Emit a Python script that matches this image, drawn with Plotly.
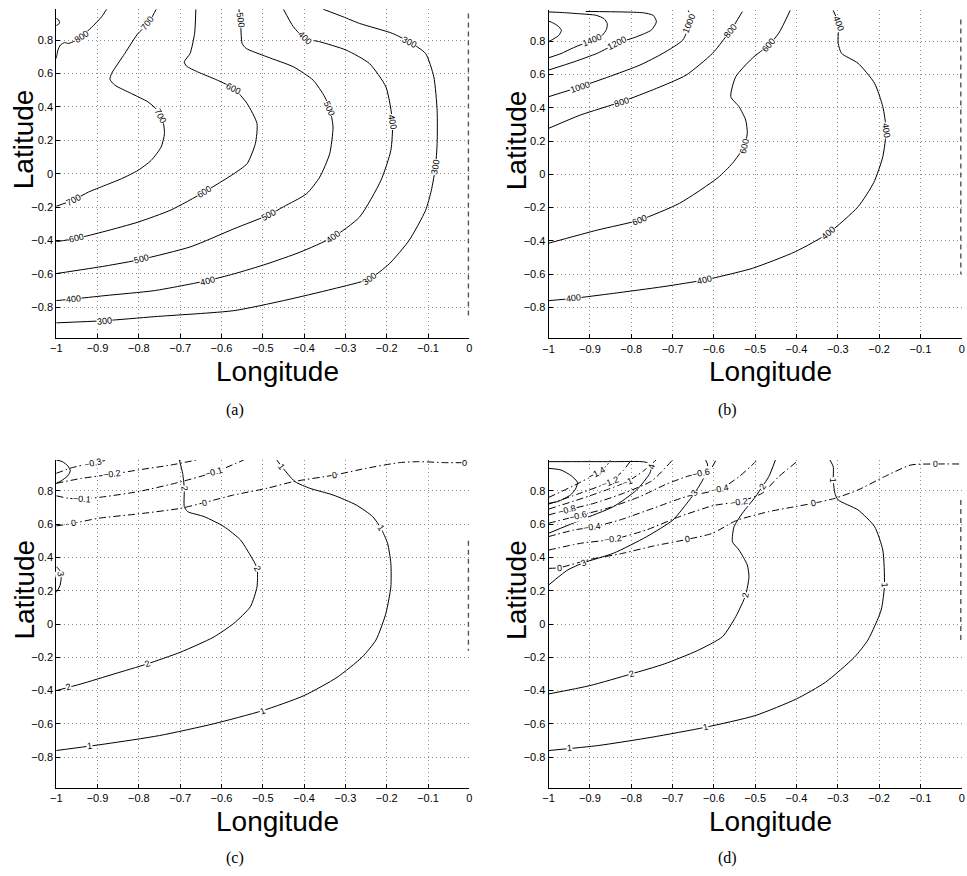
import math
import plotly.graph_objects as go

W, H = 967, 876

# ---------------- axes ----------------
LON_RANGE = [-1.0, 0.0]
LAT_RANGE = [-0.985, 0.985]
X_TICKS = [-1, -0.9, -0.8, -0.7, -0.6, -0.5, -0.4, -0.3, -0.2, -0.1, 0]
X_TICK_TEXT = ["\u22121", "\u22120.9", "\u22120.8", "\u22120.7", "\u22120.6", "\u22120.5",
               "\u22120.4", "\u22120.3", "\u22120.2", "\u22120.1", "0"]
Y_TICKS = [-0.8, -0.6, -0.4, -0.2, 0, 0.2, 0.4, 0.6, 0.8]
Y_TICK_TEXT = ["\u22120.8", "\u22120.6", "\u22120.4", "\u22120.2", "0", "0.2", "0.4", "0.6", "0.8"]

# ---------------- panel (a) contours: (lon, lat) vertices ----------------
A_900 = [(-1.0, 0.93), (-0.994, 0.92), (-0.992, 0.905), (-0.995, 0.893), (-1.0, 0.888)]
A_800 = [(-1.0, 0.69), (-0.996, 0.74), (-0.99, 0.77), (-0.98, 0.785), (-0.97, 0.78), (-0.955, 0.795),
         (-0.94, 0.82), (-0.915, 0.875), (-0.89, 0.94), (-0.878, 0.985)]
A_800_LBL = [(-0.94, 0.82)]
A_700 = [(-0.758, 0.985), (-0.77, 0.93), (-0.785, 0.88), (-0.802, 0.84), (-0.834, 0.72), (-0.866, 0.60),
         (-0.87, 0.565), (-0.858, 0.53), (-0.818, 0.48), (-0.778, 0.43), (-0.755, 0.38), (-0.742, 0.32),
         (-0.738, 0.24), (-0.746, 0.16), (-0.77, 0.08), (-0.802, 0.02), (-0.842, -0.03), (-0.882, -0.07),
         (-0.922, -0.11), (-0.958, -0.157), (-1.0, -0.195)]
A_700_LBL = [(-0.778, 0.90), (-0.745, 0.35), (-0.958, -0.157)]
A_600 = [(-0.662, 0.985), (-0.665, 0.84), (-0.676, 0.72), (-0.69, 0.67), (-0.685, 0.645), (-0.658, 0.61),
         (-0.61, 0.56), (-0.57, 0.51), (-0.538, 0.42), (-0.514, 0.30), (-0.518, 0.18), (-0.538, 0.06),
         (-0.57, 0.0), (-0.642, -0.11), (-0.722, -0.217), (-0.802, -0.29), (-0.882, -0.345),
         (-0.95, -0.387), (-1.0, -0.407)]
A_600_LBL = [(-0.57, 0.51), (-0.642, -0.11), (-0.95, -0.387)]
A_500 = [(-0.558, 0.985), (-0.554, 0.92), (-0.55, 0.78), (-0.54, 0.75), (-0.49, 0.70), (-0.426, 0.64),
         (-0.378, 0.56), (-0.35, 0.46), (-0.338, 0.39), (-0.33, 0.28), (-0.338, 0.12), (-0.362, -0.02),
         (-0.394, -0.12), (-0.45, -0.198), (-0.486, -0.247), (-0.57, -0.33), (-0.674, -0.437),
         (-0.794, -0.513), (-0.882, -0.553), (-1.0, -0.598)]
A_500_LBL = [(-0.554, 0.92), (-0.338, 0.39), (-0.486, -0.247), (-0.794, -0.513)]
A_400 = [(-0.45, 0.985), (-0.426, 0.88), (-0.398, 0.81), (-0.362, 0.79), (-0.298, 0.74), (-0.242, 0.66),
         (-0.202, 0.52), (-0.186, 0.31), (-0.19, 0.14), (-0.214, -0.04), (-0.266, -0.26), (-0.33, -0.38),
         (-0.41, -0.47), (-0.49, -0.54), (-0.57, -0.60), (-0.634, -0.64), (-0.762, -0.70),
         (-0.882, -0.73), (-0.958, -0.75), (-1.0, -0.76)]
A_400_LBL = [(-0.398, 0.81), (-0.186, 0.31), (-0.33, -0.38), (-0.634, -0.64), (-0.958, -0.75)]
A_300 = [(-0.354, 0.985), (-0.306, 0.94), (-0.266, 0.90), (-0.186, 0.84), (-0.146, 0.79), (-0.106, 0.72),
         (-0.086, 0.58), (-0.078, 0.38), (-0.078, 0.18), (-0.082, 0.04), (-0.092, -0.10), (-0.106, -0.22),
         (-0.146, -0.40), (-0.194, -0.54), (-0.242, -0.63), (-0.33, -0.69), (-0.45, -0.76),
         (-0.57, -0.82), (-0.762, -0.856), (-0.882, -0.88), (-1.0, -0.893)]
A_300_LBL = [(-0.146, 0.79), (-0.082, 0.04), (-0.242, -0.63), (-0.882, -0.88)]
A_EDGE = [(-0.002, 0.96), (-0.002, -0.86)]

# ---------------- panel (b) contours ----------------
B_1600 = [(-1.0, 0.92), (-0.99, 0.91), (-0.977, 0.89), (-0.969, 0.865), (-0.975, 0.835), (-0.99, 0.81),
          (-1.0, 0.797)]
B_1400 = [(-1.0, 0.70), (-0.97, 0.725), (-0.94, 0.76), (-0.894, 0.807), (-0.87, 0.835), (-0.86, 0.87),
          (-0.858, 0.905), (-0.866, 0.935), (-0.885, 0.955), (-0.93, 0.965), (-0.97, 0.972), (-1.0, 0.975)]
B_1400_LBL = [(-0.894, 0.807)]
B_1200 = [(-1.0, 0.626), (-0.938, 0.676), (-0.882, 0.727), (-0.834, 0.787), (-0.787, 0.826),
          (-0.751, 0.867), (-0.739, 0.917), (-0.747, 0.955), (-0.771, 0.97), (-0.82, 0.975), (-0.91, 0.978)]
B_1200_LBL = [(-0.834, 0.787)]
B_1000 = [(-1.0, 0.466), (-0.923, 0.526), (-0.843, 0.596), (-0.779, 0.656), (-0.723, 0.727),
          (-0.675, 0.807), (-0.659, 0.907), (-0.659, 0.96), (-0.662, 0.985)]
B_1000_LBL = [(-0.923, 0.526), (-0.659, 0.907)]
B_800 = [(-1.0, 0.276), (-0.923, 0.356), (-0.823, 0.436), (-0.739, 0.516), (-0.667, 0.596),
         (-0.603, 0.727), (-0.571, 0.826), (-0.56, 0.86), (-0.531, 0.977)]
B_800_LBL = [(-0.823, 0.436), (-0.56, 0.86)]
B_600 = [(-0.415, 0.985), (-0.443, 0.847), (-0.467, 0.777), (-0.507, 0.697), (-0.547, 0.586),
         (-0.559, 0.466), (-0.539, 0.406), (-0.523, 0.326), (-0.519, 0.246), (-0.527, 0.166),
         (-0.555, 0.066), (-0.59, -0.02), (-0.683, -0.174), (-0.779, -0.274), (-0.882, -0.335),
         (-1.0, -0.414)]
B_600_LBL = [(-0.467, 0.777), (-0.527, 0.166), (-0.779, -0.274)]
B_400 = [(-0.311, 0.985), (-0.299, 0.907), (-0.299, 0.787), (-0.291, 0.727), (-0.251, 0.667),
         (-0.211, 0.547), (-0.191, 0.406), (-0.183, 0.266), (-0.191, 0.106), (-0.213, -0.05),
         (-0.251, -0.195), (-0.323, -0.354), (-0.403, -0.465), (-0.507, -0.565), (-0.587, -0.615),
         (-0.623, -0.635), (-0.723, -0.675), (-0.843, -0.715), (-0.939, -0.745), (-1.0, -0.759)]
B_400_LBL = [(-0.299, 0.907), (-0.183, 0.266), (-0.323, -0.354), (-0.623, -0.635), (-0.939, -0.745)]
B_EDGE = [(-0.002, 0.93), (-0.002, -0.6)]

# ---------------- panel (c) contours ----------------
C_3A = [(-1.0, 0.985), (-0.985, 0.975), (-0.972, 0.95), (-0.966, 0.92), (-0.972, 0.89), (-0.988, 0.86),
        (-1.0, 0.845)]
C_3B = [(-1.0, 0.345), (-0.991, 0.32), (-0.988, 0.28), (-0.991, 0.23), (-1.0, 0.19)]
C_3B_LBL = [(-0.99, 0.30)]
C_M03 = [(-1.0, 0.905), (-0.96, 0.94), (-0.91, 0.968), (-0.875, 0.985)]
C_M03_LBL = [(-0.91, 0.968)]
C_M02 = [(-1.0, 0.845), (-0.938, 0.875), (-0.866, 0.899), (-0.802, 0.925), (-0.722, 0.955),
         (-0.66, 0.985)]
C_M02_LBL = [(-0.866, 0.899)]
C_M01 = [(-1.0, 0.77), (-0.97, 0.755), (-0.938, 0.75), (-0.882, 0.765), (-0.802, 0.795),
         (-0.706, 0.849), (-0.618, 0.911), (-0.546, 0.985)]
C_M01_LBL = [(-0.938, 0.75), (-0.618, 0.911)]
C_0 = [(-1.0, 0.589), (-0.958, 0.605), (-0.898, 0.635), (-0.802, 0.661), (-0.698, 0.695),
       (-0.642, 0.729), (-0.57, 0.775), (-0.49, 0.815), (-0.426, 0.855), (-0.326, 0.895),
       (-0.25, 0.935), (-0.17, 0.969), (-0.122, 0.975), (-0.058, 0.969), (0.0, 0.969)]
C_0_LBL = [(-0.958, 0.605), (-0.642, 0.729), (-0.326, 0.895), (-0.012, 0.969)]
C_2 = [(-0.702, 0.985), (-0.694, 0.905), (-0.69, 0.815), (-0.69, 0.705), (-0.682, 0.675),
       (-0.642, 0.645), (-0.594, 0.585), (-0.554, 0.505), (-0.538, 0.445), (-0.514, 0.335),
       (-0.514, 0.224), (-0.53, 0.104), (-0.57, 0.004), (-0.62, -0.08), (-0.70, -0.17),
       (-0.78, -0.24), (-0.86, -0.30), (-0.94, -0.36), (-1.0, -0.40)]
C_2_LBL = [(-0.69, 0.815), (-0.514, 0.335), (-0.78, -0.24), (-0.97, -0.38)]
C_1 = [(-0.466, 0.985), (-0.454, 0.945), (-0.422, 0.855), (-0.386, 0.815), (-0.33, 0.775),
       (-0.274, 0.715), (-0.234, 0.645), (-0.214, 0.575), (-0.198, 0.485), (-0.19, 0.365),
       (-0.19, 0.224), (-0.202, 0.064), (-0.226, -0.096), (-0.26, -0.2), (-0.32, -0.32),
       (-0.40, -0.43), (-0.50, -0.52), (-0.62, -0.60), (-0.75, -0.67), (-0.88, -0.72), (-1.0, -0.76)]
C_1_LBL = [(-0.454, 0.945), (-0.214, 0.575), (-0.50, -0.52), (-0.92, -0.735)]
C_EDGE = [(-0.002, 0.5), (-0.002, -0.16)]

# ---------------- panel (d) contours ----------------
D_5 = [(-1.0, 0.935), (-0.97, 0.925), (-0.945, 0.89), (-0.93, 0.85), (-0.935, 0.81), (-0.947, 0.775),
       (-0.978, 0.735), (-1.0, 0.725)]
D_4 = [(-1.0, 0.545), (-0.922, 0.625), (-0.843, 0.705), (-0.787, 0.805), (-0.755, 0.905),
       (-0.751, 0.949), (-0.765, 0.972), (-0.85, 0.975), (-1.0, 0.975)]
D_4_LBL = [(-0.751, 0.945)]
D_3 = [(-1.0, 0.234), (-0.954, 0.324), (-0.915, 0.368), (-0.843, 0.425), (-0.763, 0.524),
       (-0.699, 0.625), (-0.659, 0.745), (-0.647, 0.785), (-0.627, 0.865), (-0.615, 0.955),
       (-0.62, 0.985)]
D_3_LBL = [(-0.915, 0.368), (-0.647, 0.785)]
D_M14 = [(-1.0, 0.76), (-0.94, 0.83), (-0.883, 0.905), (-0.86, 0.95), (-0.85, 0.985)]
D_M14_LBL = [(-0.883, 0.905)]
D_M12 = [(-1.0, 0.72), (-0.93, 0.78), (-0.851, 0.855), (-0.82, 0.92), (-0.8, 0.985)]
D_M12_LBL = [(-0.851, 0.855)]
D_M1 = [(-1.0, 0.69), (-0.9, 0.77), (-0.81, 0.855), (-0.77, 0.92), (-0.74, 0.985)]
D_M1_LBL = [(-0.81, 0.855)]
D_M08 = [(-1.0, 0.655), (-0.955, 0.685), (-0.89, 0.725), (-0.819, 0.785), (-0.75, 0.86), (-0.70, 0.985)]
D_M08_LBL = [(-0.955, 0.685)]
D_M06 = [(-1.0, 0.605), (-0.93, 0.649), (-0.858, 0.695), (-0.779, 0.765), (-0.715, 0.84),
         (-0.66, 0.89), (-0.63, 0.905), (-0.605, 0.94), (-0.595, 0.985)]
D_M06_LBL = [(-0.93, 0.649), (-0.63, 0.905)]
D_M04 = [(-1.0, 0.525), (-0.938, 0.565), (-0.895, 0.581), (-0.827, 0.625), (-0.747, 0.695),
         (-0.667, 0.765), (-0.585, 0.81), (-0.539, 0.885), (-0.503, 0.965), (-0.495, 0.985)]
D_M04_LBL = [(-0.895, 0.581), (-0.585, 0.81)]
D_M02 = [(-1.0, 0.444), (-0.922, 0.485), (-0.843, 0.509), (-0.763, 0.565), (-0.683, 0.645),
         (-0.6, 0.712), (-0.539, 0.735), (-0.483, 0.785), (-0.443, 0.885), (-0.399, 0.975)]
D_M02_LBL = [(-0.843, 0.509), (-0.539, 0.735)]
D_0 = [(-1.0, 0.334), (-0.974, 0.338), (-0.898, 0.389), (-0.827, 0.421), (-0.747, 0.468),
       (-0.663, 0.509), (-0.603, 0.545), (-0.547, 0.62), (-0.467, 0.675), (-0.403, 0.705),
       (-0.359, 0.725), (-0.307, 0.755), (-0.251, 0.805), (-0.187, 0.885), (-0.123, 0.955),
       (-0.063, 0.961), (0.0, 0.961)]
D_0_LBL = [(-0.974, 0.338), (-0.663, 0.509), (-0.359, 0.725), (-0.063, 0.961)]
D_2 = [(-0.451, 0.985), (-0.467, 0.885), (-0.483, 0.825), (-0.499, 0.765), (-0.531, 0.665),
       (-0.551, 0.585), (-0.555, 0.494), (-0.539, 0.444), (-0.519, 0.354), (-0.515, 0.284),
       (-0.523, 0.174), (-0.547, 0.044), (-0.579, -0.076), (-0.64, -0.16), (-0.72, -0.24),
       (-0.80, -0.30), (-0.90, -0.37), (-1.0, -0.42)]
D_2_LBL = [(-0.483, 0.825), (-0.523, 0.174), (-0.80, -0.30)]
D_1 = [(-0.319, 0.985), (-0.311, 0.945), (-0.311, 0.865), (-0.307, 0.785), (-0.299, 0.745),
       (-0.251, 0.685), (-0.211, 0.585), (-0.191, 0.444), (-0.187, 0.234), (-0.195, 0.084),
       (-0.227, -0.096), (-0.26, -0.2), (-0.33, -0.35), (-0.40, -0.45), (-0.50, -0.55),
       (-0.62, -0.62), (-0.75, -0.68), (-0.88, -0.73), (-1.0, -0.76)]
D_1_LBL = [(-0.311, 0.865), (-0.187, 0.234), (-0.62, -0.62), (-0.95, -0.745)]
D_EDGE = [(-0.002, 0.745), (-0.002, -0.1)]

# (label text, vertices, label anchors, line style)
PANEL_A = [("900", A_900, [], "solid"), ("800", A_800, A_800_LBL, "solid"),
           ("700", A_700, A_700_LBL, "solid"), ("600", A_600, A_600_LBL, "solid"),
           ("500", A_500, A_500_LBL, "solid"), ("400", A_400, A_400_LBL, "solid"),
           ("300", A_300, A_300_LBL, "solid")]
PANEL_B = [("1600", B_1600, [], "solid"), ("1400", B_1400, B_1400_LBL, "solid"),
           ("1200", B_1200, B_1200_LBL, "solid"), ("1000", B_1000, B_1000_LBL, "solid"),
           ("800", B_800, B_800_LBL, "solid"), ("600", B_600, B_600_LBL, "solid"),
           ("400", B_400, B_400_LBL, "solid")]
PANEL_C = [("3", C_3A, [], "solid"), ("3", C_3B, C_3B_LBL, "solid"),
           ("-0.3", C_M03, C_M03_LBL, "dashdot"), ("-0.2", C_M02, C_M02_LBL, "dashdot"),
           ("-0.1", C_M01, C_M01_LBL, "dashdot"), ("0", C_0, C_0_LBL, "dashdot"),
           ("2", C_2, C_2_LBL, "solid"), ("1", C_1, C_1_LBL, "solid")]
PANEL_D = [("5", D_5, [], "solid"), ("4", D_4, D_4_LBL, "solid"), ("3", D_3, D_3_LBL, "solid"),
           ("-1.4", D_M14, D_M14_LBL, "dashdot"), ("-1.2", D_M12, D_M12_LBL, "dashdot"),
           ("-1", D_M1, D_M1_LBL, "dashdot"), ("-0.8", D_M08, D_M08_LBL, "dashdot"),
           ("-0.6", D_M06, D_M06_LBL, "dashdot"), ("-0.4", D_M04, D_M04_LBL, "dashdot"),
           ("-0.2", D_M02, D_M02_LBL, "dashdot"), ("0", D_0, D_0_LBL, "dashdot"),
           ("2", D_2, D_2_LBL, "solid"), ("1", D_1, D_1_LBL, "solid")]

# ---------------- layout geometry (pixels) ----------------
# name, contours, edge trace, (left, right, top, bottom), caption, caption centre
PANELS = [
    ("a", PANEL_A, A_EDGE, (50.7, 467.7, 9.2, 338.2), "(a)", (231, 410)),
    ("b", PANEL_B, B_EDGE, (547.7, 964.7, 10.3, 338.3), "(b)", (728, 410)),
    ("c", PANEL_C, C_EDGE, (50.7, 467.7, 460.0, 788.0), "(c)", (231, 858)),
    ("d", PANEL_D, D_EDGE, (547.7, 964.7, 460.0, 788.0), "(d)", (728, 858)),
]

DASHES = {"solid": "solid", "dashdot": "7px,3px,1.5px,3px"}
SANS = "Liberation Sans, Arial, Helvetica, sans-serif"


def px_x(p):
    return p / W


def px_y(p):
    return 1 - p / H


def label_pose(pts, lon, lat, sx, sy):
    """Snap a label to the nearest segment and return (lon, lat, angle)."""
    best = None
    for (x1, y1), (x2, y2) in zip(pts[:-1], pts[1:]):
        ax, ay = x1 * sx, -y1 * sy
        bx, by = x2 * sx, -y2 * sy
        qx, qy = lon * sx, -lat * sy
        dx, dy = bx - ax, by - ay
        L2 = dx * dx + dy * dy or 1e-9
        t = max(0.0, min(1.0, ((qx - ax) * dx + (qy - ay) * dy) / L2))
        cx, cy = ax + t * dx, ay + t * dy
        d = (cx - qx) ** 2 + (cy - qy) ** 2
        if best is None or d < best[0]:
            best = (d, cx / sx, -cy / sy, math.degrees(math.atan2(dy, dx)))
    _, blon, blat, ang = best
    if ang > 90:
        ang -= 180
    elif ang <= -90:
        ang += 180
    return blon, blat, ang


fig = go.Figure()
annotations = []
layout_axes = {}

for i, (name, contours, edge, (l, r, t, b), caption, (cx, cy)) in enumerate(PANELS):
    n = "" if i == 0 else str(i + 1)
    xa, ya = "x" + n, "y" + n
    sx = (r - l) / (LON_RANGE[1] - LON_RANGE[0])
    sy = (b - t) / (LAT_RANGE[1] - LAT_RANGE[0])

    common = dict(
        ticks="inside", ticklen=4, tickcolor="black",
        showline=True, linecolor="black", linewidth=1, mirror=False, zeroline=False,
        showgrid=True, gridcolor="#8c8c8c", griddash="1px,3px", gridwidth=1,
        tickfont=dict(family=SANS, size=11, color="black"), fixedrange=True,
    )
    layout_axes["xaxis" + n] = dict(
        domain=[px_x(l), px_x(r)], range=LON_RANGE, anchor=ya,
        tickvals=X_TICKS, ticktext=X_TICK_TEXT, **common,
    )
    layout_axes["yaxis" + n] = dict(
        domain=[px_y(b), px_y(t)], range=LAT_RANGE, anchor=xa,
        tickvals=Y_TICKS, ticktext=Y_TICK_TEXT, **common,
    )

    # ragged contour fragment hugging the eastern boundary
    fig.add_trace(go.Scatter(
        x=[p[0] for p in edge], y=[p[1] for p in edge], xaxis=xa, yaxis=ya, mode="lines",
        line=dict(color="#555555", width=1.6, dash="5px,4px"), hoverinfo="skip", showlegend=False,
    ))

    for text, pts, lbls, style in contours:
        fig.add_trace(go.Scatter(
            x=[p[0] for p in pts], y=[p[1] for p in pts], xaxis=xa, yaxis=ya, mode="lines",
            line=dict(color="black", width=1, dash=DASHES[style], shape="spline", smoothing=0.6),
            hoverinfo="skip", showlegend=False,
        ))
        for (lon, lat) in lbls:
            blon, blat, ang = label_pose(pts, lon, lat, sx, sy)
            annotations.append(dict(
                x=blon, y=blat, xref=xa, yref=ya, text=text.replace("-", "\u2212"), showarrow=False,
                textangle=ang, font=dict(family=SANS, size=9, color="black"),
                bgcolor="white", borderpad=0, xanchor="center", yanchor="middle",
            ))

    # axis titles and caption
    annotations.append(dict(
        x=px_x((l + r) / 2 + 15), y=px_y(b + 33), xref="paper", yref="paper", text="Longitude",
        showarrow=False, font=dict(family=SANS, size=28, color="black"),
        xanchor="center", yanchor="middle",
    ))
    annotations.append(dict(
        x=px_x(l - 33), y=px_y((t + b) / 2 - 34), xref="paper", yref="paper", text="Latitude",
        showarrow=False, textangle=-90, font=dict(family=SANS, size=28, color="black"),
        xanchor="center", yanchor="middle",
    ))
    annotations.append(dict(
        x=px_x(cx), y=px_y(cy), xref="paper", yref="paper", text=caption, showarrow=False,
        font=dict(family="Liberation Serif, DejaVu Serif, serif", size=16, color="black"),
        xanchor="center", yanchor="middle",
    ))

fig.update_layout(
    width=W, height=H, margin=dict(l=0, r=0, t=0, b=0),
    paper_bgcolor="white", plot_bgcolor="white", showlegend=False,
    annotations=annotations, **layout_axes,
)

fig.write_html("out.html")
